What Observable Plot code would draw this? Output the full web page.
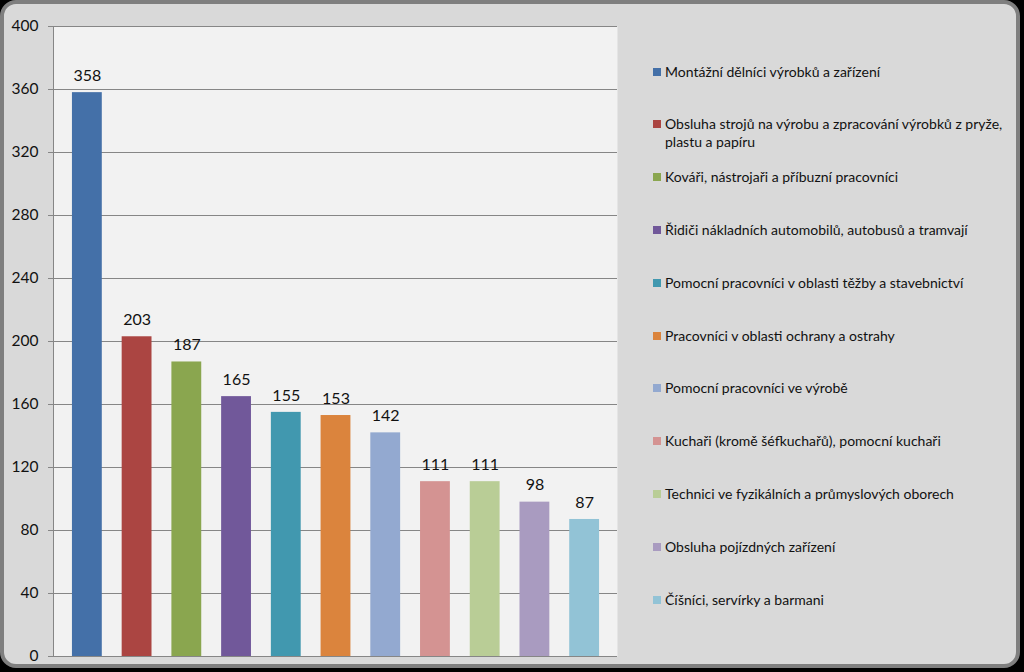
<!DOCTYPE html>
<html>
<head>
<meta charset="utf-8">
<script src="https://cdn.jsdelivr.net/npm/d3@7"></script>
<script src="https://cdn.jsdelivr.net/npm/@observablehq/plot@0.6"></script>
<style>
  html, body { margin: 0; padding: 0; background: #000; }
  #wrap { position: relative; width: 1024px; height: 672px; overflow: hidden; background: #000; }
  #panel { position: absolute; left: 0; top: 0; width: 1012px; height: 660px; border: 4px solid #7f7f7f; border-radius: 16px; background: #d9d9d9; }
  #chart { position: absolute; left: 0; top: 0; }
  #legend { position: absolute; left: 653px; top: 0; font-family: Lato, "Open Sans", sans-serif; font-size: 14px; color: #111; }
  .item { position: absolute; left: 0; white-space: nowrap; line-height: 18px; }
  .sw { display: inline-block; width: 8px; height: 8px; margin-right: 4px; vertical-align: 1px; }
  .item .t { display: inline-block; vertical-align: top; }
</style>
</head>
<body>
<div id="wrap">
  <div id="panel"></div>
  <div id="chart"></div>
  <div id="legend"></div>
</div>
<script>
const categories = [
  "Montážní dělníci výrobků a zařízení",
  "Obsluha strojů na výrobu a zpracování výrobků z pryže,\nplastu a papíru",
  "Kováři, nástrojaři a příbuzní pracovníci",
  "Řidiči nákladních automobilů, autobusů a tramvají",
  "Pomocní pracovníci v oblasti těžby a stavebnictví",
  "Pracovníci v oblasti ochrany a ostrahy",
  "Pomocní pracovníci ve výrobě",
  "Kuchaři (kromě šéfkuchařů), pomocní kuchaři",
  "Technici ve fyzikálních a průmyslových oborech",
  "Obsluha pojízdných zařízení",
  "Číšníci, servírky a barmani"
];
const values = [358, 203, 187, 165, 155, 153, 142, 111, 111, 98, 87];
const colors = ["#4470a8", "#ab4542", "#8aa64f", "#71589a", "#4198af", "#db843d", "#93a9d0", "#d49392", "#b9cd96", "#a99bc0", "#92c3d6"];
const yTicks = [0, 40, 80, 120, 160, 200, 240, 280, 320, 360, 400];

const data = categories.map((c, i) => ({category: c, value: values[i]}));

const chart = Plot.plot({
  width: 1024,
  height: 672,
  marginLeft: 53,
  marginRight: 407,
  marginTop: 26,
  marginBottom: 16,
  style: {fontFamily: "Lato, 'Open Sans', sans-serif", fontSize: "15px", color: "#111", background: "transparent"},
  x: {domain: categories, paddingInner: 0.4, paddingOuter: 0.2, insetLeft: 9, insetRight: 8, round: false, axis: null},
  y: {domain: [0, 400], ticks: yTicks, label: null},
  color: {domain: categories, range: colors},
  marks: [
    Plot.frame({fill: "#f2f2f2", stroke: null}),
    Plot.gridY(yTicks, {stroke: "#868686", strokeOpacity: 1, strokeWidth: 1}),
    Plot.axisY(yTicks, {tickSize: 5, tickPadding: 10, stroke: "#868686", fontSize: 15.5, fill: "#111", label: null}),
    Plot.frame({anchor: "left", stroke: "#868686"}),
    Plot.barY(data, {x: "category", y: "value", fill: "category"}),
    Plot.ruleY([0], {stroke: "#868686"}),
    Plot.text(data, {x: "category", y: "value", text: d => String(d.value), dy: -17, fontSize: 16, fill: "#111"})
  ]
});
document.getElementById("chart").appendChild(chart);

const legendTops = [63, 115, 168, 221, 274, 327, 379, 432, 485, 538, 591];
const legend = document.getElementById("legend");
categories.forEach((c, i) => {
  const div = document.createElement("div");
  div.className = "item";
  div.style.top = legendTops[i] + "px";
  const sw = document.createElement("span");
  sw.className = "sw";
  sw.style.background = colors[i];
  const t = document.createElement("span");
  t.className = "t";
  t.innerHTML = c.split("\n").join("<br>");
  div.appendChild(sw);
  div.appendChild(t);
  legend.appendChild(div);
});
</script>
</body>
</html>
